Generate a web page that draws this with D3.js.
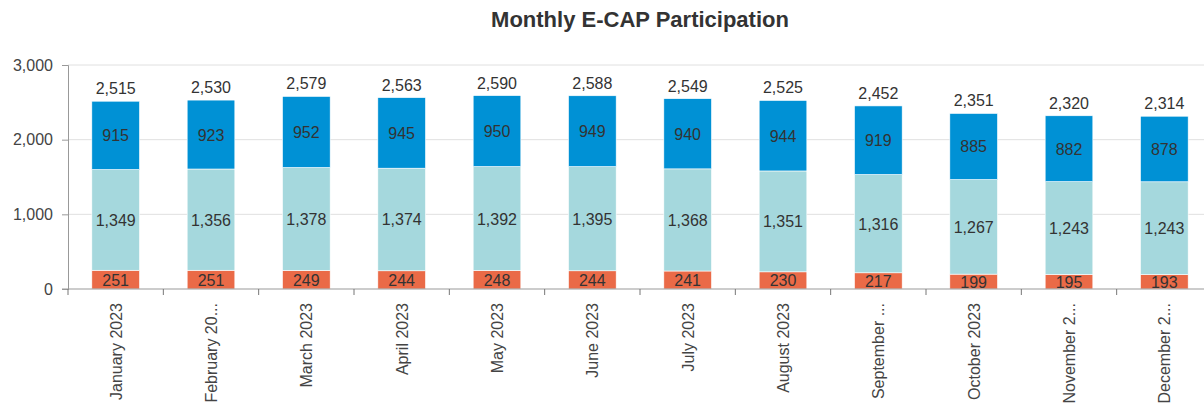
<!DOCTYPE html>
<html><head><meta charset="utf-8">
<script src="https://cdn.jsdelivr.net/npm/d3@7"></script>
<style>body{margin:0;background:#fff;overflow:hidden}svg{display:block}text{font-family:"Liberation Sans",Arial,sans-serif}</style>
</head><body><svg id="c" width="1204" height="403"></svg>
<script>
const months = ["January 2023","February 20...","March 2023","April 2023","May 2023","June 2023","July 2023","August 2023","September ...","October 2023","November 2...","December 2..."];
const bottomVals = [251,251,249,244,248,244,241,230,217,199,195,193];
const middleVals = [1349,1356,1378,1374,1392,1395,1368,1351,1316,1267,1243,1243];
const topVals = [915,923,952,945,950,949,940,944,919,885,882,878];
const yTicks = [0,1000,2000,3000];
const seriesColors = ["#ea6a47","#a5d8dd","#0091d5"];

const svg = d3.select("#c");
const m = {l:68, r:-8, t:65, b:114};
const W = 1204 - m.l - m.r, H = 403 - m.t - m.b;
const x = d3.scaleBand().domain(months).range([m.l, m.l+W]).paddingInner(0.5).paddingOuter(0.25);
const y = d3.scaleLinear().domain([0,3000]).range([m.t+H, m.t]);
const fmt = d3.format(",");

svg.append("text").attr("x", m.l + W/2).attr("y", 27).attr("text-anchor","middle")
  .attr("font-size",22).attr("font-weight","bold").attr("fill","#333").text("Monthly E-CAP Participation");

// grid
svg.append("g").selectAll("line").data(yTicks.filter(d=>d>0)).join("line")
  .attr("x1", m.l).attr("x2", m.l+W).attr("y1", d=>y(d)).attr("y2", d=>y(d))
  .attr("stroke","#e0e0e0").attr("stroke-width",1);

const data = months.map((mo,i)=>({mo, vals:[bottomVals[i], middleVals[i], topVals[i]]}));
const stack = d3.stack().keys([0,1,2]).value((d,k)=>d.vals[k])(data);

const g = svg.append("g");
stack.forEach((s,k)=>{
  g.append("g").selectAll("rect").data(s).join("rect")
    .attr("x", d=>x(d.data.mo)).attr("width", x.bandwidth())
    .attr("y", d=>y(d[1])).attr("height", d=>y(d[0])-y(d[1]))
    .attr("fill", seriesColors[k]).attr("stroke","#fff").attr("stroke-width",0.6);
  g.append("g").selectAll("text").data(s).join("text")
    .attr("x", d=>x(d.data.mo)+x.bandwidth()/2).attr("y", d=>(y(d[0])+y(d[1]))/2 + 6)
    .attr("text-anchor","middle").attr("font-size",16).attr("fill","#333")
    .text(d=>fmt(d.data.vals[k]));
});
// totals
g.append("g").selectAll("text").data(data).join("text")
  .attr("x", d=>x(d.mo)+x.bandwidth()/2).attr("y", d=>y(d3.sum(d.vals)) - 7)
  .attr("text-anchor","middle").attr("font-size",16).attr("fill","#333")
  .text(d=>fmt(d3.sum(d.vals)));

// y axis
const ya = svg.append("g").attr("transform",`translate(${m.l},0)`)
  .call(d3.axisLeft(y).tickValues(yTicks).tickFormat(fmt).tickSize(6).tickPadding(9));
ya.select(".domain").attr("stroke","#999");
ya.selectAll(".tick line").attr("stroke","#999");
ya.selectAll("text").attr("font-size",16).attr("fill","#444").attr("font-family","Liberation Sans, Arial, sans-serif");

// x axis
const step = x.step();
const xa = svg.append("g").attr("transform",`translate(0,${m.t+H})`);
xa.append("line").attr("x1", m.l-6).attr("x2", m.l+W).attr("stroke","#999");
xa.selectAll("line.t").data(d3.range(months.length+1)).join("line").attr("class","t")
  .attr("x1", i=>m.l + i*step).attr("x2", i=>m.l + i*step).attr("y1",0).attr("y2",6).attr("stroke","#777");
xa.selectAll("text").data(months).join("text")
  .attr("transform", d=>`translate(${x(d)+x.bandwidth()/2+6},14) rotate(-90)`)
  .attr("text-anchor","end").attr("font-size",16).attr("fill","#444").text(d=>d);
</script></body></html>
